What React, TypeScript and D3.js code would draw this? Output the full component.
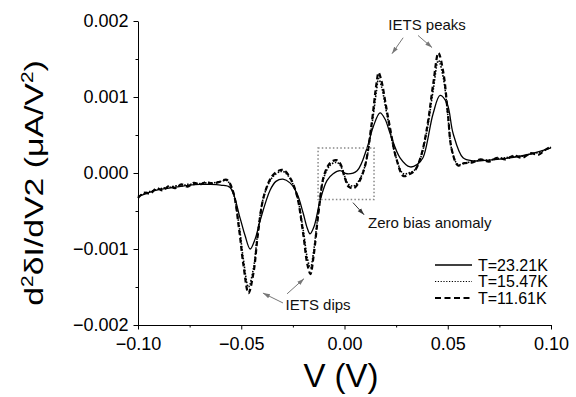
import React, { useEffect, useRef } from "react";
import * as d3 from "d3";

// T = 23.21 K (solid)
const biasT23 = [
  -0.1, -0.095, -0.09, -0.085, -0.08, -0.075, -0.07, -0.065, -0.06, -0.0554,
  -0.0506, -0.0482, -0.0457, -0.0433, -0.0409, -0.0361, -0.0332, -0.0298, -0.0264, -0.023,
  -0.0201, -0.0181, -0.0167, -0.0147, -0.0118, -0.0085, -0.0055, -0.0022, 0.0012, 0.0061,
  0.0109, 0.0138, 0.0172, 0.0196, 0.0221, 0.0269, 0.0318, 0.0351, 0.038, 0.0429,
  0.0463, 0.0497, 0.0526, 0.0574, 0.0623, 0.07, 0.08, 0.09, 0.1,
];
const signalT23 = [
  -0.00031, -0.00026, -0.00022, -0.0002, -0.00018, -0.00016, -0.00015, -0.00015, -0.00016, -0.00019,
  -0.00059, -0.00082, -0.001, -0.00087, -0.00063, -0.00023, -0.00011, -0.00008, -0.00013, -0.00027,
  -0.00052, -0.00072, -0.0008, -0.0007, -0.00036, -0.0001, -0.00001, 0.00003, -0.00001, 0.00003,
  0.00033, 0.0006, 0.00079, 0.00071, 0.00052, 0.0002, 0.00008, 0.00011, 0.0002, 0.00078,
  0.00102, 0.00091, 0.00052, 0.0002, 0.00016, 0.00017, 0.0002, 0.00025, 0.00033,
];

// T = 15.47 K (dotted) and T = 11.61 K (dashed) share one bias grid
const biasLow = [
  -0.1, -0.097, -0.094, -0.091, -0.088, -0.085, -0.082, -0.079, -0.076, -0.073,
  -0.07, -0.067, -0.064, -0.061, -0.057, -0.054, -0.051, -0.049, -0.0465, -0.044,
  -0.042, -0.039, -0.035, -0.031, -0.029, -0.026, -0.023, -0.02, -0.018, -0.0165,
  -0.015, -0.0125, -0.01, -0.007, -0.004, -0.002, 0.0, 0.002, 0.0045, 0.007,
  0.01, 0.013, 0.0155, 0.0165, 0.018, 0.02, 0.022, 0.025, 0.0285, 0.031,
  0.034, 0.037, 0.04, 0.043, 0.0455, 0.048, 0.05, 0.052, 0.055, 0.058,
  0.062, 0.066, 0.07, 0.074, 0.078, 0.082, 0.086, 0.09, 0.094, 0.097, 0.1,
];
const signalT15 = [
  -0.00031, -0.00027, -0.00024, -0.00022, -0.0002, -0.00019, -0.00017, -0.00017, -0.00015, -0.00015,
  -0.00014, -0.00013, -0.00013, -0.00012, -0.0001, -0.00025, -0.0007, -0.00113, -0.0015, -0.00124,
  -0.00078, -0.0003, -0.00006, 0.00002, 0.00001, -0.00009, -0.0003, -0.00075, -0.00112, -0.00125,
  -0.00104, -0.00048, -0.00006, 0.0001, 0.00014, 0.0001, -0.00004, -0.00015, -0.00017, -0.0001,
  0.0001, 0.00058, 0.00108, 0.00124, 0.00113, 0.00085, 0.00057, 0.0002, -0.00001, 0.0,
  0.00004, 0.00021, 0.00057, 0.0011, 0.00148, 0.00123, 0.00077, 0.0003, 0.00011, 0.00013,
  0.00015, 0.00017, 0.00017, 0.00019, 0.0002, 0.00022, 0.00022, 0.00025, 0.00027, 0.0003, 0.00034,
];
const signalT11 = [
  -0.00033, -0.00026, -0.00027, -0.0002, -0.00023, -0.00017, -0.0002, -0.00015, -0.00018, -0.00013,
  -0.00015, -0.00012, -0.00014, -0.00012, -0.00009, -0.00024, -0.00075, -0.0012, -0.00158, -0.0013,
  -0.00082, -0.0003, -0.00004, 0.00004, 0.00003, -0.00008, -0.0003, -0.0008, -0.0012, -0.00133,
  -0.0011, -0.0005, -0.00004, 0.00013, 0.00017, 0.00012, -0.00005, -0.00018, -0.0002, -0.00012,
  0.0001, 0.00062, 0.00118, 0.00132, 0.0012, 0.0009, 0.0006, 0.0002, -0.00004, -0.00002,
  0.00003, 0.00022, 0.0006, 0.00118, 0.00158, 0.0013, 0.0008, 0.0003, 0.0001, 0.00013,
  0.00014, 0.00018, 0.00015, 0.0002, 0.00018, 0.00023, 0.0002, 0.00026, 0.00024, 0.0003, 0.00035,
];

const xTicks = [-0.1, -0.05, 0, 0.05, 0.1];
const xMinor = [-0.075, -0.025, 0.025, 0.075];
const yTicks = [-0.002, -0.001, 0, 0.001, 0.002];
const yMinor = [-0.0015, -0.0005, 0.0005, 0.0015];
const legendLabels = ["T=23.21K", "T=15.47K", "T=11.61K"];

const App: React.FC = () => {
  const ref = useRef<SVGSVGElement>(null);

  useEffect(() => {
    document.body.style.margin = "0";
    const root = d3.select(ref.current);
    root.selectAll("*").remove();

    const W = 576;
    const H = 397;
    const margin = { top: 21, right: 25, bottom: 72, left: 138 };
    const width = W - margin.left - margin.right;
    const height = H - margin.top - margin.bottom;
    const font = '"Liberation Sans", Arial, sans-serif';

    const defs = root.append("defs");
    const marker = (id: string, color: string) =>
      defs
        .append("marker")
        .attr("id", id)
        .attr("viewBox", "0 0 10 10")
        .attr("refX", 10)
        .attr("refY", 5)
        .attr("markerUnits", "userSpaceOnUse")
        .attr("markerWidth", 7)
        .attr("markerHeight", 7)
        .attr("orient", "auto")
        .append("path")
        .attr("d", "M0,1.8 L10,5 L0,8.2 z")
        .attr("fill", color);
    marker("arrGray", "#777");
    marker("arrDark", "#333");

    const svg = root
      .append("g")
      .attr("transform", `translate(${margin.left},${margin.top})`);

    const x = d3.scaleLinear().domain([-0.1, 0.1]).range([0, width]);
    const y = d3.scaleLinear().domain([-0.002, 0.002]).range([height, 0]);

    // axes
    svg
      .append("g")
      .attr("transform", `translate(0,${height})`)
      .call(
        d3
          .axisBottom(x)
          .tickValues(xTicks)
          .tickFormat(d3.format(".2f") as any)
          .tickSize(4.5)
          .tickSizeOuter(0)
          .tickPadding(8)
      )
      .attr("font-size", 18)
      .attr("font-family", font);
    svg
      .append("g")
      .attr("transform", `translate(0,${height})`)
      .call(d3.axisBottom(x).tickValues(xMinor).tickSize(2.5).tickFormat(() => ""))
      .call((g: any) => g.select(".domain").remove());

    svg
      .append("g")
      .call(
        d3
          .axisLeft(y)
          .tickValues(yTicks)
          .tickFormat(d3.format(".3f") as any)
          .tickSize(4.5)
          .tickSizeOuter(0)
          .tickPadding(5)
      )
      .attr("font-size", 18)
      .attr("font-family", font);
    svg
      .append("g")
      .call(d3.axisLeft(y).tickValues(yMinor).tickSize(2.5).tickFormat(() => ""))
      .call((g: any) => g.select(".domain").remove());

    // curves
    const series = [
      { bias: biasLow, signal: signalT11, w: 2.2, dash: "5,3" },
      { bias: biasLow, signal: signalT15, w: 1.6, dash: "1.5,1.5" },
      { bias: biasT23, signal: signalT23, w: 1.3, dash: null },
    ];
    series.forEach((s) => {
      const line = d3
        .line<number>()
        .x((d, i) => x(s.bias[i]))
        .y((d) => y(d))
        .curve(d3.curveCatmullRom.alpha(0.5));
      svg
        .append("path")
        .datum(s.signal)
        .attr("d", line)
        .attr("fill", "none")
        .attr("stroke", "#000")
        .attr("stroke-width", s.w)
        .attr("stroke-dasharray", s.dash);
    });

    // zero bias box
    svg
      .append("rect")
      .attr("x", x(-0.0128))
      .attr("y", y(0.00033))
      .attr("width", x(0.0143) - x(-0.0128))
      .attr("height", y(-0.00035) - y(0.00033))
      .attr("fill", "none")
      .attr("stroke", "#888")
      .attr("stroke-width", 1.5)
      .attr("stroke-dasharray", "1.5,2.2");

    // annotations
    const arrows = [
      { from: [0.0284, 0.00178], to: [0.023, 0.00157], m: "arrGray" },
      { from: [0.0356, 0.00181], to: [0.0424, 0.00165], m: "arrGray" },
      { from: [-0.0298, -0.00171], to: [-0.0395, -0.00158], m: "arrGray" },
      { from: [-0.0278, -0.00159], to: [-0.0196, -0.00139], m: "arrGray" },
      { from: [0.0041, -0.00039], to: [0.0095, -0.00055], m: "arrDark" },
    ];
    arrows.forEach((a) => {
      svg
        .append("line")
        .attr("x1", x(a.from[0]))
        .attr("y1", y(a.from[1]))
        .attr("x2", x(a.to[0]))
        .attr("y2", y(a.to[1]))
        .attr("stroke", a.m === "arrGray" ? "#777" : "#333")
        .attr("stroke-width", 1)
        .attr("marker-end", `url(#${a.m})`);
    });

    const notes = [
      { text: "IETS peaks", at: [0.04, 0.00188], anchor: "middle" },
      { text: "IETS dips", at: [-0.0128, -0.0018], anchor: "middle" },
      { text: "Zero bias anomaly", at: [0.0114, -0.00073], anchor: "start" },
    ];
    notes.forEach((n) => {
      svg
        .append("text")
        .attr("x", x(n.at[0]))
        .attr("y", y(n.at[1]))
        .attr("text-anchor", n.anchor)
        .attr("font-family", font)
        .attr("font-size", 15)
        .attr("fill", "#111")
        .text(n.text);
    });

    // legend
    const legend = root.append("g").attr("transform", "translate(435,265)");
    const legendStyles = [
      { w: 1.3, dash: null },
      { w: 1.2, dash: "1.2,1.6" },
      { w: 2.2, dash: "6,3.5" },
    ];
    legendLabels.forEach((label, i) => {
      const row = legend.append("g").attr("transform", `translate(0,${i * 16.5})`);
      row
        .append("line")
        .attr("x1", 0)
        .attr("x2", 37)
        .attr("stroke", "#000")
        .attr("stroke-width", legendStyles[i].w)
        .attr("stroke-dasharray", legendStyles[i].dash);
      row
        .append("text")
        .attr("x", 43)
        .attr("y", 5.5)
        .attr("font-family", font)
        .attr("font-size", 16)
        .text(label);
    });

    // axis titles
    root
      .append("text")
      .attr("x", 341)
      .attr("y", 387)
      .attr("text-anchor", "middle")
      .attr("font-family", font)
      .attr("font-size", 33)
      .text("V (V)");

    const yTitle = root
      .append("text")
      .attr("transform", "translate(43,183) rotate(-90) scale(1.3,1)")
      .attr("text-anchor", "middle")
      .attr("font-family", font)
      .attr("font-size", 26);
    yTitle.append("tspan").text("d");
    yTitle.append("tspan").attr("font-size", 16).attr("dy", -10).text("2");
    yTitle.append("tspan").attr("dy", 10).text("δI/dV2 (μA/V");
    yTitle.append("tspan").attr("font-size", 16).attr("dy", -10).text("2");
    yTitle.append("tspan").attr("dy", 10).text(")");
  }, []);

  return <svg ref={ref} width={576} height={397} style={{ display: "block" }} />;
};

export default App;
